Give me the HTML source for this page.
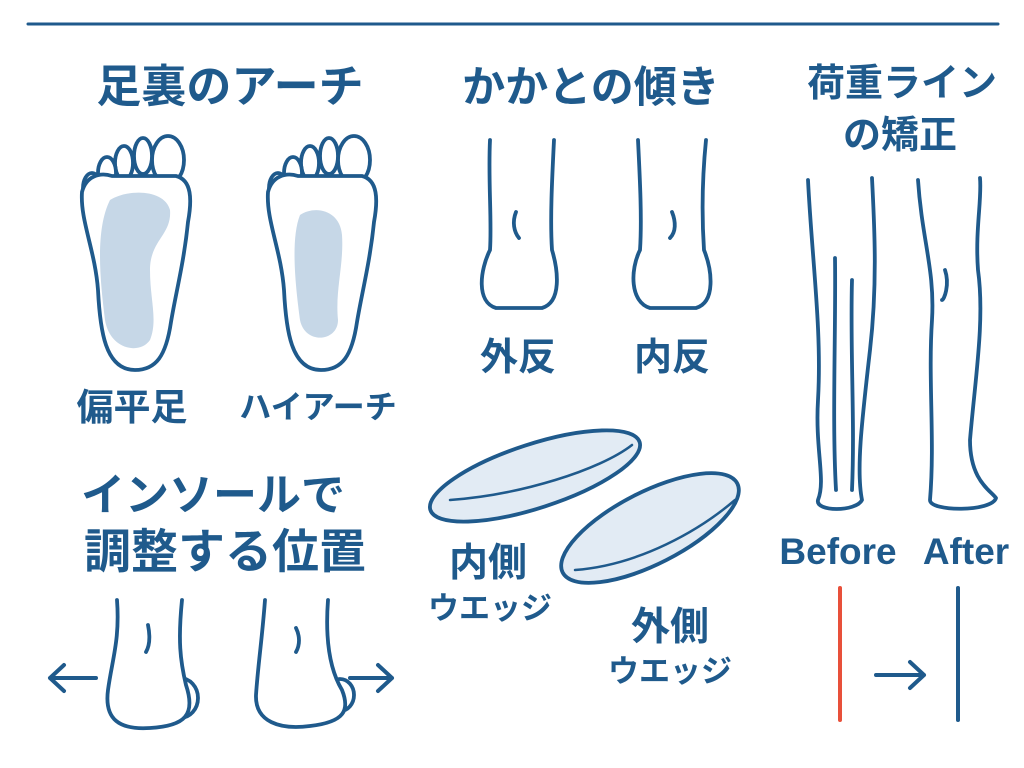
<!DOCTYPE html>
<html><head><meta charset="utf-8">
<style>
html,body{margin:0;padding:0;background:#fff;}
svg{display:block;}
text{font-family:"Liberation Sans","Noto Sans CJK JP",sans-serif;font-weight:bold;fill:#1f5a8c;}
</style></head>
<body>
<svg width="1024" height="768" viewBox="0 0 1024 768" xmlns="http://www.w3.org/2000/svg">
<g stroke="#1f5a8c" stroke-width="3.8" fill="none" stroke-linecap="round" stroke-linejoin="round">
<line x1="28" y1="24" x2="998" y2="24" stroke-width="3"/>

<g fill="#fff">
<ellipse cx="168" cy="160" rx="16" ry="24"/>
<ellipse cx="143" cy="156" rx="9" ry="18"/>
<ellipse cx="124" cy="163" rx="9" ry="17"/>
<ellipse cx="107" cy="173" rx="9" ry="16"/>
<ellipse cx="92" cy="188" rx="9" ry="15"/>
<path d="M135,370 C105,370 100,330 98,290 C95,250 80,220 82,192 C86,176 100,172 112,176 L176,176 C192,180 192,200 188,222 C184,262 176,292 171,322 C166,356 156,370 135,370 Z"/>
</g>
<path d="M110,200 C130,188 165,190 170,210 C172,235 150,240 150,270 C150,300 158,320 150,340 C140,355 110,350 105,320 C100,280 95,230 110,200 Z" fill="#c6d7e7" stroke="none"/>

<g fill="#fff" transform="translate(186,0)">
<ellipse cx="168" cy="160" rx="16" ry="24"/>
<ellipse cx="143" cy="156" rx="9" ry="18"/>
<ellipse cx="124" cy="163" rx="9" ry="17"/>
<ellipse cx="107" cy="173" rx="9" ry="16"/>
<ellipse cx="92" cy="188" rx="9" ry="15"/>
<path d="M135,370 C105,370 100,330 98,290 C95,250 80,220 82,192 C86,176 100,172 112,176 L176,176 C192,180 192,200 188,222 C184,262 176,292 171,322 C166,356 156,370 135,370 Z"/>
</g>
<path d="M300,215 C315,205 340,210 342,235 C344,265 335,290 338,320 C338,342 305,345 300,320 C296,290 290,240 300,215 Z" fill="#c6d7e7" stroke="none"/>

<path d="M490,140 C488,180 492,220 490,250 C480,270 476,302 496,308 L542,308 C562,302 558,270 552,250 C550,220 552,180 554,140"/>
<path d="M516,212 C512,222 514,232 519,238"/>
<path d="M638,140 C640,180 642,220 640,250 C630,270 630,302 650,308 L696,308 C716,302 712,270 704,250 C702,220 702,180 706,140"/>
<path d="M672,212 C676,222 676,232 670,238"/>

<path d="M808,180 C812,260 822,330 818,400 C815,450 826,480 818,500 C815,512 856,512 862,500 C856,470 862,420 870,350 C878,280 874,220 872,178"/>
<path d="M835,258 C836,330 832,420 836,490"/>
<path d="M852,280 C850,350 855,420 852,490"/>
<path d="M918,180 C922,240 935,270 932,320 C928,380 935,440 930,500 C930,512 992,512 996,498 C990,490 970,480 970,440 C975,380 985,320 978,270 C975,230 982,200 980,178"/>
<path d="M945,270 C950,285 944,300 942,300"/>
<line x1="840" y1="588" x2="840" y2="720" stroke="#e8503a" stroke-width="4"/>
<line x1="958" y1="588" x2="958" y2="720" stroke-width="4"/>
<path d="M876,675 L924,675 M910,662 L924,675 L910,688" stroke-width="4"/>

<ellipse cx="180" cy="698" rx="18" ry="20" fill="#fff"/>
<path d="M117,600 C120,640 112,660 108,690 C104,720 120,730 150,728 C185,726 196,715 186,685 C180,660 178,640 182,600" fill="#fff"/>
<path d="M148,625 C150,635 150,645 146,652"/>
<path d="M96,678 L50,678 M64,665 L50,678 L64,691" stroke-width="4"/>
<ellipse cx="340" cy="695" rx="14" ry="16" fill="#fff"/>
<path d="M265,600 C262,640 258,665 256,695 C255,722 280,730 310,726 C345,722 350,710 342,690 C330,670 325,640 328,600" fill="#fff"/>
<path d="M296,628 C300,636 300,645 296,652"/>
<path d="M350,678 L392,678 M378,665 L392,678 L378,691" stroke-width="4"/>

<ellipse cx="535" cy="476" rx="110" ry="32" transform="rotate(-18 535 476)" fill="#e2ebf4"/>
<path d="M450,500 C520,495 600,470 632,445" stroke-width="2.5"/>
<ellipse cx="650" cy="528" rx="98" ry="36" transform="rotate(-27 650 528)" fill="#e2ebf4"/>
<path d="M575,570 C640,565 700,530 735,500" stroke-width="2.5"/>
</g>

<text x="230" y="102" font-size="45" text-anchor="middle">足裏のアーチ</text>
<text x="591" y="102" font-size="43" text-anchor="middle">かかとの傾き</text>
<text x="902" y="96" font-size="38" text-anchor="middle">荷重ライン</text>
<text x="900" y="148" font-size="38" text-anchor="middle">の矯正</text>
<text x="132" y="420" font-size="37" text-anchor="middle">偏平足</text>
<text x="318" y="418" font-size="32" text-anchor="middle">ハイアーチ</text>
<text x="518" y="370" font-size="38" text-anchor="middle">外反</text>
<text x="672" y="370" font-size="38" text-anchor="middle">内反</text>
<text x="838" y="564" font-size="37" text-anchor="middle">Before</text>
<text x="966" y="564" font-size="37" text-anchor="middle">After</text>
<text x="213" y="510" font-size="44" text-anchor="middle">インソールで</text>
<text x="225" y="568" font-size="47" text-anchor="middle">調整する位置</text>
<text x="488" y="576" font-size="39" text-anchor="middle">内側</text>
<text x="490" y="619" font-size="31" text-anchor="middle">ウエッジ</text>
<text x="670" y="640" font-size="39" text-anchor="middle">外側</text>
<text x="670" y="682" font-size="31" text-anchor="middle">ウエッジ</text>
</svg>
</body></html>
